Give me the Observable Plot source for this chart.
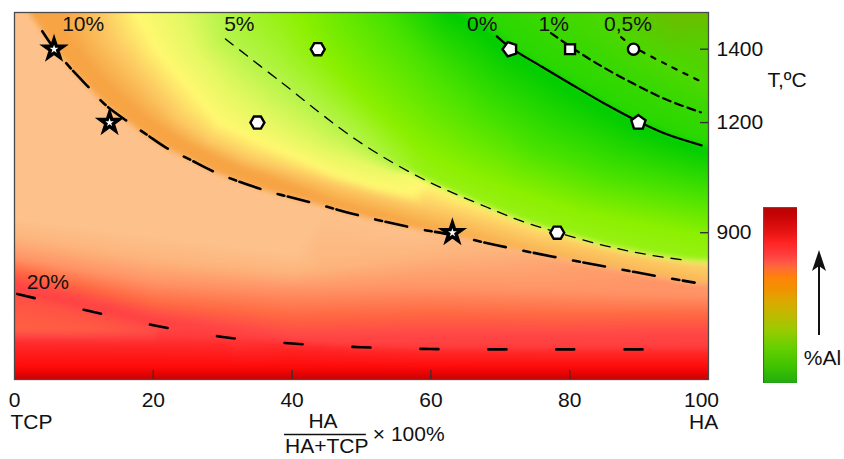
<!DOCTYPE html>
<html><head><meta charset="utf-8">
<script src="https://cdn.jsdelivr.net/npm/d3@7"></script>
<script src="https://cdn.jsdelivr.net/npm/@observablehq/plot@0.6"></script>
<style>
body{margin:0;background:#fff;}
#wrap{position:relative;width:844px;height:459px;overflow:hidden;background:#fff;font-family:"Liberation Sans",Arial,sans-serif;}
#wrap svg{position:absolute;left:0;top:0;}
#wrap svg.bar{left:763px;top:207px;}
</style></head><body><div id="wrap"></div>
<script>
// ---------- axes ----------
const xTickLabels = [0, 20, 40, 60, 80, 100];
const xTickMarks = [20, 40, 60, 80];
const yTickValues = [900, 1200, 1400];

// ---------- iso-%Al lines (x = HA share %, t = temperature °C) ----------
const line20X = [0, 10, 20, 30, 40, 50, 60, 70, 80, 91];
const line20T = [735, 690, 648, 616, 598, 588, 583, 582, 582, 582];
const line10X = [4.0, 5.6, 8, 11, 13, 16.3, 19, 22, 25, 29, 36, 43, 50.5, 58, 63, 68, 73, 80, 87, 94, 98];
const line10T = [1449, 1405, 1350, 1290, 1250, 1203, 1168, 1130, 1102, 1064, 1016, 981, 943, 911, 894, 872, 852, 826, 801, 777, 764];
const line5X = [30.4, 38.3, 49.4, 59, 68, 73, 78.2, 85, 91, 97];
const line5T = [1428, 1312, 1151, 1045, 970, 932, 901, 865, 841, 824];
const line0X = [69.5, 71.4, 76, 80.1, 85, 89.9, 94, 99];
const line0T = [1435, 1405, 1352, 1306, 1252, 1203, 1168, 1138];
const line1X = [77.3, 80.1, 84, 89.3, 94, 98.9];
const line1T = [1444, 1407, 1360, 1305, 1262, 1228];
const line05X = [87.4, 89.2, 94, 98.6];
const line05T = [1433, 1407, 1358, 1315];

// ---------- experimental points ----------
const starX = [5.7, 13.7, 63.1], starT = [1400, 1200, 900];
const hexX = [43.7, 35.0, 78.2], hexT = [1400, 1200, 900];
const pentX = [71.4, 89.9], pentT = [1400, 1200], pentTurn = [-18, 0];
const squareX = [80.05], squareT = [1400];
const circleX = [89.2], circleT = [1400];

// ---------- line labels ----------
const levelLabels = ["10%", "5%", "0%", "1%", "0,5%", "20%"];
const levelLabelX = [9.9, 32.4, 67.4, 77.7, 88.4, 4.8];
const levelLabelT = [1467, 1467, 1467, 1467, 1467, 765];

// ---------- background shading: estimated colour-level guide curves [x, t, level] ----------
const shadeCorner = [[96,1500,0],[100,1500,0],[100,1440,0.5]];
const shade05 = [[84,1500,1],[87.4,1433,1],[89.2,1407,1],[94,1358,1],[100,1300,1]];
const shade1 = [[73,1500,1.6],[77.3,1444,1.6],[80.1,1407,1.6],[84,1360,1.6],[89.3,1305,1.6],[94,1262,1.6],[100,1220,1.6]];
const shade0Upper = [[66,1500,2],[70.5,1440,2],[72.2,1407,2],[76.5,1356,2],[80.8,1310,2],[85.6,1257,2],[90.5,1208,2],[94.6,1174,2],[99,1146,2],[100,1142,2]];
const shade0Lower = [[63,1500,3],[67,1460,3],[69,1430,3],[71,1400,3],[75.3,1350,3],[79.6,1300,3],[84.5,1246,3],[89.4,1196,3],[94,1160,3],[99,1130,3],[100,1128,3]];
const shadeGreen = [[53,1500,4],[56.5,1420,4],[61,1330,4],[67,1230,4],[75,1130,4],[86,1055,4],[100,1000,4]];
const shadeLime = [[41,1500,5],[43,1420,5],[47.5,1320,5],[53,1220,5],[58.5,1130,5],[64,1075,5],[72,1015,5],[82,955,5],[100,890,5]];
const shade5Upper = [[30,1500,6],[30.8,1428,6],[38.6,1312,6],[44.5,1225,6],[49.6,1151,6],[54.5,1097,5.7],[59,1051,5.3],[63.5,1012,5.3],[68,976,5.3],[73,938,5.3],[78.2,907,5.3],[85,871,5.3],[91,847,5.3],[97,830,5.3],[100,827,5.3]];
const shade5Lower = [[57,1058,7.6],[59,1039,8],[63.5,1000,8.1],[68,964,8.3],[73,926,8.5],[78.2,895,8.6],[85,859,8.7],[91,835,8.8],[97,818,8.8],[100,814,8.8]];
const shadeYellowGreen = [[24,1500,7],[26,1400,7],[31,1290,7],[35.5,1220,7],[40,1170,7],[45,1120,7],[50,1085,7.2],[54,1060,7.4]];
const shadeYellow = [[17.5,1500,8],[20.5,1400,8],[25,1300,8],[29.5,1200,8],[35,1150,8],[40,1110,8],[46,1060,8],[52,1025,8],[57,1005,8]];
const shadeLightOrange = [[12.5,1500,9],[14,1420,9],[18.5,1320,9],[23.5,1210,9],[28,1150,9],[34,1100,9],[40,1066,9],[47,1025,9],[54,990,9],[62,955,9],[75,884,9],[88,836,9],[100,793,9]];
const shadeOrangeBand = [[7,1500,10],[7,1449,10],[8.6,1405,10],[11,1350,10],[14,1290,10],[19.5,1203,10],[25,1140,10],[32,1078,10],[39,1034,10],[46,982,10],[52,955,9.9],[58,928,9.8]];
const shade10Upper = [[2.6,1500,10],[4.5,1449,10],[6.1,1405,10],[8.5,1350,10],[11.5,1290,10],[13.5,1250,10],[16.8,1203,10],[19.5,1168,10],[22.4,1134,10],[25.3,1106,10],[29.3,1068,10],[36,1022,10],[43,987,10],[50.5,949,10],[58,917,10],[63,900,9.8],[68,878,9.7],[73,858,9.6],[80,832,9.5],[87,807,9.4],[94,783,9.4],[98,770,9.4],[100,767,9.4]];
const shade10Lower = [[1.6,1500,11],[3.5,1449,11],[5.1,1405,11],[7.5,1350,11],[10.5,1290,11],[12.5,1250,11],[15.8,1203,11],[18.5,1162,11],[21.6,1126,11],[24.7,1098,11],[28.7,1060,11],[36,1010,11],[43,975,11],[50.5,937,11],[58,905,11],[63,888,11.5],[68,866,11.8],[73,846,12.1],[80,820,12.5],[87,795,12.8],[94,771,13],[98,758,13],[100,755,13]];
const shadePeach = [[0,1500,11],[0,941,11],[20,895,11],[40,845,11]];
const shadeSalmonLight = [[0,887,12],[20,824,12],[40,790,12],[60,838,12]];
const shadeSalmon = [[0,832,13],[20,765,13],[40,745,13],[60,752,13],[80,742,13],[100,730,13]];
const shadeRedOrange = [[0,797,14],[20,707,14],[40,672,14],[60,680,14],[80,674,14],[100,678,14]];
const shadeRed = [[0,762,15],[20,669,15],[40,616,15],[60,620,15],[80,620,15],[100,624,15]];
const shade20Upper = [[0,740,15.1],[10,695,15.1],[20,653,15.2],[30,621,15.2],[40,603,15.3],[50,593,15.3],[60,588,15.3],[70,587,15.3],[80,587,15.3],[100,587,15.3]];
const shade20Lower = [[0,730,14.7],[10,685,14.7],[20,643,14.9],[30,611,15.5],[40,593,16],[50,583,16],[60,578,16],[80,577,16],[100,577,16]];
const shadeStripe = [[0,636,14.2],[10,634,14.3],[20,630,14.7]];
const shadeBelowStripe = [[0,598,16],[15,596,16],[30,595,16]];
const shadeBright = [[0,530,17],[100,530,17]];
const shadeBottom = [[0,500,18],[100,500,18]];

const shadeLevels = [0,1,2,3,4,5,6,7,8,9,10,11,12,13,14,15,16,17,18];
const shadeColors = ["#6cbc00","#4cd800","#28d800","#00cc00","#48e200","#8cf000","#b4f448","#e4f862","#fff870","#fcc862","#f7a445","#fdc28c","#fdb47c","#ff9466","#ff6842","#ff4646","#ff2a2a","#ff0808","#c80000"];

// ---------- colour bar (legend) ----------
const barStops = [0, 0.10, 0.20, 0.30, 0.40, 0.47, 0.53, 0.60, 0.66, 0.70, 0.74, 0.80, 0.86, 0.95, 1];
const barColors = ["#20ac10","#40c400","#64d000","#98cc00","#c4b800","#dca800","#f09400","#ff8408","#ff6a38","#ff5048","#ff3a3a","#ff2424","#e81414","#c80404","#bb0000"];

// ---------- build ----------
const MARGIN = {left: 14, right: 136, top: 12, bottom: 80}, W = 844, H = 459;
const pxPerX = (W - MARGIN.left - MARGIN.right) / 100;
const pxPerT = (H - MARGIN.top - MARGIN.bottom) / 1000;
const toRows = (X, T) => X.map((x, i) => ({x, t: T[i]}));

// sample each guide curve finely enough (in screen pixels) for a clean triangulation
function guideSamples(guide, maxPx) {
  const out = [];
  guide.forEach(([x0, t0, v0], i) => {
    out.push({x: x0, t: t0, v: v0});
    if (i + 1 < guide.length) {
      const [x1, t1, v1] = guide[i + 1];
      const n = Math.ceil(Math.hypot((x1 - x0) * pxPerX, (t1 - t0) * pxPerT) / maxPx);
      for (let k = 1; k < n; k++) {
        const f = k / n;
        out.push({x: x0 + (x1 - x0) * f, t: t0 + (t1 - t0) * f, v: v0 + (v1 - v0) * f});
      }
    }
  });
  return out;
}
const shadeGuides = [shadeCorner, shade05, shade1, shade0Upper, shade0Lower, shadeGreen, shadeLime,
  shade5Upper, shade5Lower, shadeYellowGreen, shadeYellow, shadeLightOrange, shadeOrangeBand, shade10Upper, shade10Lower,
  shadePeach, shadeSalmonLight, shadeSalmon, shadeRedOrange, shadeRed, shade20Upper, shade20Lower, shadeStripe,
  shadeBelowStripe, shadeBright, shadeBottom];
const shadeSamples = shadeGuides.flatMap(g => guideSamples(g, 6));

function polygonSymbol(n, start) {
  return {draw(ctx, size) {
    const r = Math.sqrt(size / Math.PI);
    for (let i = 0; i < n; i++) {
      const a = (start + i * 360 / n) * Math.PI / 180;
      const px = r * Math.cos(a), py = r * Math.sin(a);
      if (i === 0) ctx.moveTo(px, py); else ctx.lineTo(px, py);
    }
    ctx.closePath();
  }};
}
const hexagonFlat = polygonSymbol(6, 0);
const pentagon = polygonSymbol(5, -90);

const FONT = '"Liberation Sans", Arial, Helvetica, sans-serif';
const lineOpts = {x: "x", y: "t", curve: "catmull-rom", stroke: "black", fill: "none"};
const markerOpts = {x: "x", y: "t", fill: "white", stroke: "black", strokeWidth: 2.4};
const bottomText = {frameAnchor: "bottom", lineAnchor: "middle", fontSize: 21, fill: "#111"};

const chart = Plot.plot({
  width: W, height: H,
  marginLeft: MARGIN.left, marginRight: MARGIN.right, marginTop: MARGIN.top, marginBottom: MARGIN.bottom,
  x: {domain: [0, 100], axis: null},
  y: {domain: [500, 1500], axis: null},
  color: {type: "linear", domain: shadeLevels, range: shadeColors, interpolate: "rgb"},
  style: {fontFamily: FONT, background: "white", overflow: "visible"},
  marks: [
    Plot.raster(shadeSamples, {x: "x", y: "t", fill: "v", interpolate: "barycentric", x1: 0, x2: 100, y1: 500, y2: 1500, pixelSize: 1, blur: 2}),
    Plot.line(toRows(line20X, line20T), {...lineOpts, strokeWidth: 2.6, strokeDasharray: "18,50", strokeDashoffset: -3}),
    Plot.line(toRows(line10X, line10T), {...lineOpts, strokeWidth: 2.6, strokeDasharray: "22,18,7,3.5"}),
    Plot.line(toRows(line5X, line5T), {...lineOpts, strokeWidth: 1.3, strokeDasharray: "10,8"}),
    Plot.line(toRows(line0X, line0T), {...lineOpts, strokeWidth: 2.2}),
    Plot.line(toRows(line1X, line1T), {...lineOpts, strokeWidth: 2.2, strokeDasharray: "8,5"}),
    Plot.line(toRows(line05X, line05T), {...lineOpts, strokeWidth: 2.2, strokeDasharray: "4.5,7.5"}),
    Plot.frame({stroke: "#4a4a4a", strokeWidth: 1.3}),
    Plot.ruleX(xTickMarks, {x: d => d, insetTop: 358, stroke: "#333", strokeWidth: 1.4}),
    Plot.ruleY(yTickValues, {y: d => d, insetLeft: 686, stroke: "#333", strokeWidth: 1.4}),
    Plot.dot(toRows(hexX, hexT), {...markerOpts, symbol: hexagonFlat, r: 7}),
    Plot.dot(toRows(pentX, pentT), {...markerOpts, symbol: pentagon, r: 7.5, rotate: (d, i) => pentTurn[i]}),
    Plot.dot(toRows(squareX, squareT), {...markerOpts, symbol: "square", r: 5.6}),
    Plot.dot(toRows(circleX, circleT), {...markerOpts, symbol: "circle", r: 5.6}),
    Plot.dot(toRows(starX, starT), {x: "x", y: "t", symbol: "star", r: 6, fill: "white", stroke: "black", strokeWidth: 3.4, strokeLinejoin: "miter"}),
    Plot.text(levelLabels, {x: (d, i) => levelLabelX[i], y: (d, i) => levelLabelT[i], text: d => d, fontSize: 21, fill: "#111"}),
    Plot.text(xTickLabels.filter(d => d < 100), {...bottomText, x: d => d, dy: 21, text: d => String(d)}),
    Plot.text(xTickLabels.filter(d => d === 100), {...bottomText, x: d => d, dy: 21, dx: -7, text: d => String(d)}),
    Plot.text(["TCP"], {...bottomText, x: 0, dy: 43, dx: -4, textAnchor: "start"}),
    Plot.text(["HA"], {...bottomText, x: 100, dy: 43, dx: -19.5, textAnchor: "start"}),
    Plot.text(["HA"], {...bottomText, x: 44.45, dy: 42}),
    Plot.text(["HA+TCP"], {...bottomText, x: 45, dy: 67}),
    Plot.text(["× 100%"], {...bottomText, x: 56.8, dy: 55}),
    Plot.text(yTickValues, {y: d => d, frameAnchor: "right", lineAnchor: "middle", dx: 8, textAnchor: "start", text: d => String(d), fontSize: 21, fill: "#111"}),
    Plot.text(["T,ºC"], {y: 1315, frameAnchor: "right", lineAnchor: "middle", dx: 59, textAnchor: "start", fontSize: 21, fill: "#111"})
  ]
});
const wrap = document.getElementById("wrap");
wrap.appendChild(chart);

// fraction bar of the x-axis title
const sx = chart.scale("x");
d3.select(chart).append("line")
  .attr("x1", sx.apply(38.9)).attr("x2", sx.apply(50.7))
  .attr("y1", 434.5).attr("y2", 434.5)
  .attr("stroke", "#111").attr("stroke-width", 1.4);

// colour bar legend
const bar = Plot.plot({
  width: 34, height: 176, margin: 0,
  x: {domain: [0, 1], axis: null},
  y: {domain: [0, 1], axis: null},
  color: {type: "linear", domain: barStops, range: barColors, interpolate: "rgb"},
  marks: [
    Plot.raster({fill: (x, y) => y, x1: 0, x2: 1, y1: 0, y2: 1, width: 1, height: 176, imageRendering: "auto"}),
    Plot.frame({stroke: "#555", strokeWidth: 1.2})
  ]
});
bar.classList.add("bar");
wrap.appendChild(bar);

// arrow + "%Al" label
const ann = d3.select(wrap).append("svg").attr("width", 844).attr("height", 459).style("pointer-events", "none");
ann.append("line").attr("x1", 819).attr("x2", 819).attr("y1", 335).attr("y2", 264).attr("stroke", "#111").attr("stroke-width", 2);
ann.append("path").attr("d", "M819,250 L826,271 L819,266 L812,271 Z").attr("fill", "#111");
ann.append("text").attr("x", 822.5).attr("y", 358).attr("dy", "0.35em").attr("text-anchor", "middle")
  .attr("font-family", FONT).attr("font-size", 21).attr("fill", "#111").text("%Al");
</script></body></html>
